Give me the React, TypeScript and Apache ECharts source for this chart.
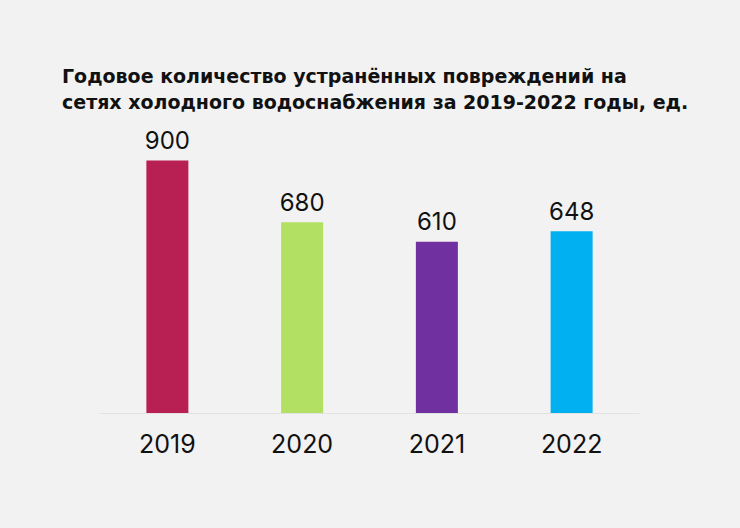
import React, { useEffect, useRef } from "react";
import * as echarts from "echarts";

const titleLines = [
  "Годовое количество устранённых повреждений на",
  "сетях холодного водоснабжения за 2019-2022 годы, ед.",
];
const years = ["2019", "2020", "2021", "2022"];
const values = [900, 680, 610, 648];
const barColors = ["#b81f53", "#b1e062", "#7030a0", "#00b0f0"];

export default function App() {
  const ref = useRef<HTMLDivElement>(null);
  useEffect(() => {
    if (!ref.current) return;
    const chart = echarts.init(ref.current, null, { renderer: "svg" });
    chart.setOption({
      animation: false,
      backgroundColor: "#f2f2f2",
      title: {
        text: titleLines.join("\n"),
        left: 57,
        top: 58,
        textStyle: {
          fontFamily: "DejaVu Sans",
          fontWeight: 700,
          fontSize: 19,
          lineHeight: 26,
          color: "#111111",
        },
      },
      grid: { left: 100, right: 101, top: 132.4, bottom: 115 },
      xAxis: {
        type: "category",
        data: years,
        axisLine: { show: true, lineStyle: { color: "#e2e2e2", width: 1 } },
        axisTick: { show: false },
        axisLabel: {
          fontFamily: "Inter",
          fontSize: 25,
          color: "#111111",
          margin: 18,
        },
      },
      yAxis: {
        type: "value",
        min: 0,
        max: 1000,
        show: false,
        splitLine: { show: false },
      },
      series: [
        {
          type: "bar",
          barWidth: 42,
          data: values.map((v, i) => ({ value: v, itemStyle: { color: barColors[i] } })),
          label: {
            show: true,
            position: "top",
            distance: 8,
            fontFamily: "Inter",
            fontSize: 24,
            color: "#111111",
          },
        },
      ],
    });
    return () => chart.dispose();
  }, []);
  return (
    <div
      ref={ref}
      style={{ position: "fixed", left: 0, top: 0, width: 740, height: 528 }}
    />
  );
}
